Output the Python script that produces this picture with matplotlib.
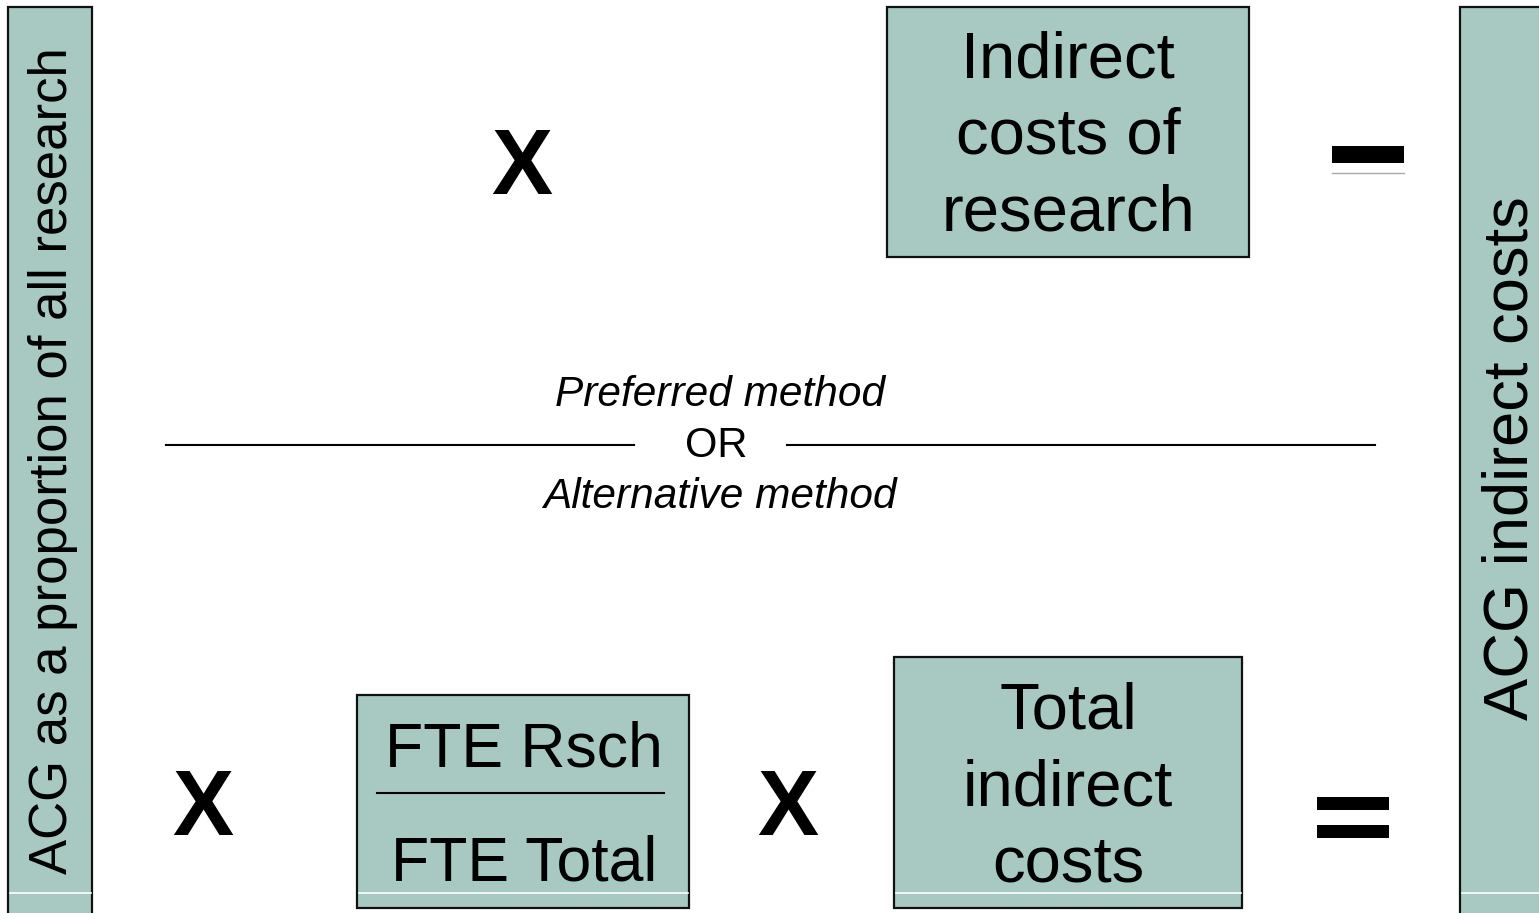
import matplotlib.pyplot as plt
from matplotlib.patches import Rectangle

# texts of the diagram
left_label = 'ACG as a proportion of all research'
right_label = 'ACG indirect costs'
top_box_text = 'Indirect\ncosts of\nresearch'
bottom_num = 'FTE Rsch'
bottom_den = 'FTE Total'
bottom_box_text = 'Total\nindirect\ncosts'
method_labels = ['Preferred method', 'OR', 'Alternative method']

box_col = '#A7C9C1'
plt.rcParams['font.family'] = ['Liberation Sans', 'DejaVu Sans']

fig = plt.figure(figsize=(15.39, 9.13), dpi=100)
ax = fig.add_axes([0, 0, 1, 1])
ax.set_xlim(0, 1539)
ax.set_ylim(913, 0)
ax.axis('off')


def box(x0, y0, x1, y1):
    ax.add_patch(Rectangle((x0, y0), x1 - x0, y1 - y0, facecolor=box_col,
                           edgecolor='#111111', linewidth=1.6, zorder=1))
    # thin white line near the bottom of each box
    if y1 > 893:
        ax.plot([x0 + 1.5, min(x1, 1539) - 1.5], [893, 893], color='white',
                lw=1.2, zorder=3)


# side boxes
box(8, 7, 92, 930)
ax.text(53, 461, left_label, rotation=90, ha='center', va='center', fontsize=38)
box(1460, 7, 1560, 930)
ax.text(1511, 458, right_label, rotation=90, ha='center', va='center', fontsize=45.5)

# top row
ax.text(522, 170, 'X', ha='center', va='center', fontsize=66, weight='bold')
box(887, 7, 1249, 257)
ax.text(1068, 137, top_box_text, ha='center', va='center', fontsize=47,
        linespacing=1.36)
ax.add_patch(Rectangle((1332, 146), 72, 17, facecolor='black', edgecolor='none'))
ax.plot([1332, 1404], [173, 173], color='#aaaaaa', lw=1)

# middle separator
ax.text(720, 395, method_labels[0], ha='center', va='center', fontsize=30.5,
        style='italic')
ax.text(716, 446, method_labels[1], ha='center', va='center', fontsize=30)
ax.text(720, 497, method_labels[2], ha='center', va='center', fontsize=30.5,
        style='italic')
ax.plot([166, 634], [445, 445], color='black', lw=1.5)
ax.plot([787, 1375], [445, 445], color='black', lw=1.5)

# bottom row
ax.text(203, 811, 'X', ha='center', va='center', fontsize=66, weight='bold')
box(357, 695, 689, 908)
ax.text(524, 750, bottom_num, ha='center', va='center', fontsize=45)
ax.plot([377, 664], [793, 793], color='black', lw=1.5)
ax.text(524, 864, bottom_den, ha='center', va='center', fontsize=45)
ax.text(788, 811, 'X', ha='center', va='center', fontsize=66, weight='bold')
box(894, 657, 1242, 908)
ax.text(1068, 788, bottom_box_text, ha='center', va='center', fontsize=47,
        linespacing=1.36)
ax.add_patch(Rectangle((1317, 797), 72, 13, facecolor='black', edgecolor='none'))
ax.add_patch(Rectangle((1317, 825), 72, 13, facecolor='black', edgecolor='none'))

fig.savefig('out.png', dpi=100)
